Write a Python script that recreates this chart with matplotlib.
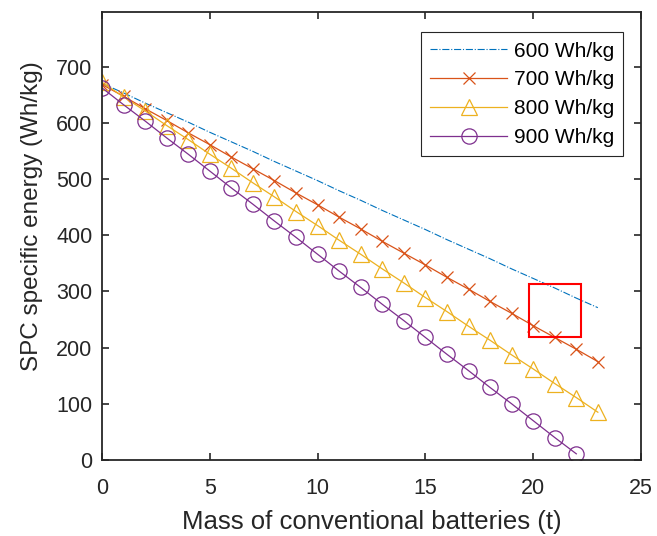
import numpy as np
import matplotlib.pyplot as plt
from matplotlib.patches import Rectangle

plt.rcParams['font.family'] = ['Liberation Sans', 'DejaVu Sans']

# ============================================================
# Data
# ============================================================

mass = list(range(0, 24))

e600 = [670, 653, 635, 618, 601, 583, 566, 549, 531, 514, 497, 479,
        462, 444, 427, 410, 392, 375, 358, 340, 323, 306, 288, 271]
e700 = [668, 647, 625, 604, 582, 561, 539, 518, 497, 475, 454, 432,
        411, 389, 368, 347, 325, 304, 282, 261, 239, 218, 197, 175]
e800 = [672, 646, 621, 595, 570, 544, 519, 493, 468, 442, 417, 391,
        366, 340, 315, 289, 264, 238, 213, 187, 162, 136, 111, 85]
e900 = [662, 632, 603, 573, 544, 514, 484, 455, 425, 396, 366, 336,
        307, 277, 248, 218, 188, 159, 129, 100, 70, 40, 11]

labels = ["600 Wh/kg", "700 Wh/kg", "800 Wh/kg", "900 Wh/kg"]

# highlight box (data coords)
box_x = (19.8, 22.2)
box_y = (219, 313)

# ============================================================
# Plot
# ============================================================

fig = plt.figure(figsize=(6.57, 5.36), dpi=100)
ax = fig.add_axes([0.1553, 0.1418, 0.8203, 0.8358])

ax.plot(mass, e600, "-.", color="#0072BD", lw=0.8, label=labels[0])
ax.plot(mass, e700, "-", color="#D95319", lw=0.9, marker="x",
        ms=8.5, mew=0.9, label=labels[1])
ax.plot(mass, e800, "-", color="#EDB120", lw=0.9, marker="^",
        ms=12, mew=0.9, mfc="none", label=labels[2])
ax.plot(mass[:len(e900)], e900, "-", color="#7E2F8E", lw=0.9, marker="o",
        ms=11, mew=0.9, mfc="none", label=labels[3])

ax.add_patch(Rectangle((box_x[0], box_y[0]),
                       box_x[1] - box_x[0], box_y[1] - box_y[0],
                       fill=False, edgecolor="red", lw=1.5, zorder=5))

ax.set_xlim(0, 25)
ax.set_ylim(0, 797)
ax.set_xticks([0, 5, 10, 15, 20, 25])
ax.set_yticks(np.arange(0, 701, 100))

ax.tick_params(direction="in", top=True, right=True, length=5,
               width=1.2, labelsize=15.5, colors="#262626")
ax.tick_params(axis="x", pad=13)
ax.tick_params(axis="y", pad=7)
for s in ax.spines.values():
    s.set_linewidth(1.3)
    s.set_color("#262626")

ax.set_xlabel("Mass of conventional batteries (t)", fontsize=18.5,
              color="#262626", labelpad=8)
ax.set_ylabel("SPC specific energy (Wh/kg)", fontsize=17.5,
              color="#262626")
ax.yaxis.set_label_coords(-0.109, 0.545)

leg = ax.legend(loc="upper right", fontsize=15, fancybox=False,
                framealpha=1, edgecolor="#262626", borderpad=0.45,
                handlelength=3.7, handletextpad=0.3, labelspacing=0.47,
                borderaxespad=0, bbox_to_anchor=(0.967, 0.955))
leg.get_frame().set_linewidth(0.8)

fig.savefig("out.png", dpi=100)
